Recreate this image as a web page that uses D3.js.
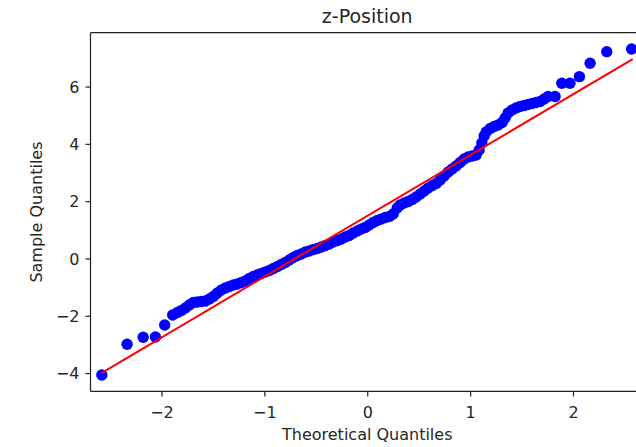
<!DOCTYPE html>
<html>
<head>
<meta charset="utf-8">
<script src="https://cdn.jsdelivr.net/npm/d3@7"></script>
<style>
  html, body { margin: 0; padding: 0; background: #fff; }
  svg { display: block; }
  text { font-family: "DejaVu Sans", sans-serif; fill: #262626; }
</style>
</head>
<body>
<svg id="chart" width="636" height="447"></svg>
<script>
// Theoretical quantiles (x)
const theoretical = [
  -2.580, -2.334, -2.178, -2.059, -1.969, -1.891, -1.845, -1.806, -1.768, -1.729,
  -1.690, -1.651, -1.612, -1.573, -1.534, -1.496, -1.457, -1.418, -1.379, -1.340,
  -1.301, -1.262, -1.224, -1.185, -1.146, -1.107, -1.068, -1.029, -0.991, -0.952,
  -0.913, -0.874, -0.835, -0.796, -0.758, -0.719, -0.680, -0.641, -0.602, -0.563,
  -0.524, -0.486, -0.447, -0.408, -0.369, -0.330, -0.291, -0.252, -0.214, -0.175,
  -0.136, -0.097, -0.058, -0.019, 0.019, 0.058, 0.097, 0.136, 0.175, 0.214,
  0.252, 0.291, 0.320, 0.359, 0.398, 0.437, 0.476, 0.515, 0.554, 0.592,
  0.631, 0.670, 0.709, 0.748, 0.787, 0.825, 0.864, 0.903, 0.942, 0.981,
  1.020, 1.059, 1.088, 1.114, 1.136, 1.156, 1.195, 1.233, 1.272, 1.311,
  1.340, 1.369, 1.408, 1.447, 1.486, 1.525, 1.564, 1.602, 1.641, 1.680,
  1.719, 1.758, 1.826, 1.891, 1.971, 2.062, 2.166, 2.328, 2.570
];
// Sample quantiles (y)
const sample = [
  -4.066, -2.995, -2.750, -2.740, -2.321, -1.972, -1.885, -1.815, -1.728, -1.623,
  -1.536, -1.518, -1.501, -1.483, -1.414, -1.326, -1.204, -1.099, -1.030, -0.977,
  -0.925, -0.890, -0.838, -0.785, -0.698, -0.628, -0.576, -0.524, -0.471, -0.419,
  -0.349, -0.279, -0.209, -0.140, -0.052, 0.035, 0.105, 0.157, 0.227, 0.262,
  0.314, 0.349, 0.401, 0.454, 0.506, 0.576, 0.628, 0.681, 0.750, 0.803,
  0.890, 0.960, 1.030, 1.082, 1.169, 1.257, 1.326, 1.379, 1.431, 1.466,
  1.553, 1.763, 1.867, 1.937, 1.990, 2.059, 2.147, 2.251, 2.356, 2.461,
  2.548, 2.618, 2.740, 2.880, 3.019, 3.124, 3.229, 3.351, 3.473, 3.543,
  3.578, 3.613, 3.787, 4.031, 4.276, 4.415, 4.538, 4.607, 4.660, 4.747,
  4.904, 5.079, 5.183, 5.253, 5.305, 5.340, 5.375, 5.410, 5.445, 5.480,
  5.567, 5.654, 5.654, 6.115, 6.115, 6.346, 6.813, 7.218, 7.312
];
// Reference line end points
const lineX = [-2.58, 2.58];
const lineY = [-3.99, 6.96];
// Axis ticks and labels
const xTicks = [-2, -1, 0, 1, 2];
const yTicks = [-4, -2, 0, 2, 4, 6];
const titleText = "z-Position";
const xLabel = "Theoretical Quantiles";
const yLabel = "Sample Quantiles";

const svg = d3.select("#chart");
const pLeft = 90.5, pRight = 644, pTop = 32.7, pBottom = 391.4;

const x = d3.scaleLinear().domain([-2.69, 2.69]).range([pLeft, pRight]);
const y = d3.scaleLinear().domain([-4.64, 7.88]).range([pBottom, pTop]);

const fmt = d => (d < 0 ? "\u2212" + Math.abs(d) : String(d));

// points
const pts = theoretical.map((t, i) => ({ t, s: sample[i] }));
svg.append("g")
  .selectAll("circle")
  .data(pts)
  .join("circle")
  .attr("cx", d => x(d.t))
  .attr("cy", d => y(d.s))
  .attr("r", 5.7)
  .attr("fill", "#0000ff");

// red reference line
const linePts = lineX.map((v, i) => [v, lineY[i]]);
svg.append("path")
  .datum(linePts)
  .attr("d", d3.line().x(d => x(d[0])).y(d => y(d[1])))
  .attr("fill", "none")
  .attr("stroke", "#ff0000")
  .attr("stroke-width", 2);

// spines
function spine(x1, y1, x2, y2) {
  svg.append("line").attr("x1", x1).attr("y1", y1).attr("x2", x2).attr("y2", y2)
    .attr("stroke", "#222").attr("stroke-width", 1.2);
}
spine(pLeft, pTop, pLeft, pBottom);
spine(pLeft, pTop, pRight, pTop);
spine(pLeft, pBottom, pRight, pBottom);
spine(pRight, pTop, pRight, pBottom);

// x axis
const xAxis = d3.axisBottom(x).tickValues(xTicks).tickFormat(fmt).tickSize(5).tickPadding(6);
const gx = svg.append("g").attr("transform", `translate(0,${pBottom})`).call(xAxis);
gx.select(".domain").remove();
gx.selectAll(".tick line").attr("stroke", "#222").attr("stroke-width", 1.2);
gx.selectAll(".tick text")
  .attr("font-size", 16).attr("fill", "#262626")
  .attr("dy", null).attr("y", 27);

// y axis
const yAxis = d3.axisLeft(y).tickValues(yTicks).tickFormat(fmt).tickSize(5).tickPadding(6);
const gy = svg.append("g").attr("transform", `translate(${pLeft},0)`).call(yAxis);
gy.select(".domain").remove();
gy.selectAll(".tick line").attr("stroke", "#222").attr("stroke-width", 1.2);
gy.selectAll(".tick text")
  .attr("font-size", 16).attr("fill", "#262626")
  .attr("dy", null).attr("y", 5.8).attr("x", -11);

// title
svg.append("text")
  .attr("x", (pLeft + pRight) / 2).attr("y", 23)
  .attr("text-anchor", "middle").attr("font-size", 19)
  .text(titleText);

// x label
svg.append("text")
  .attr("x", (pLeft + pRight) / 2).attr("y", 440)
  .attr("text-anchor", "middle").attr("font-size", 16)
  .text(xLabel);

// y label
svg.append("text")
  .attr("transform", `translate(42,${(pTop + pBottom) / 2}) rotate(-90)`)
  .attr("text-anchor", "middle").attr("font-size", 16)
  .text(yLabel);
</script>
</body>
</html>
